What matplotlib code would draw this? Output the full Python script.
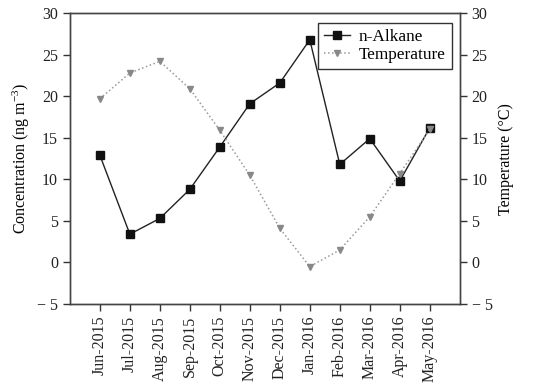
import matplotlib
matplotlib.use('Agg')
import matplotlib.pyplot as plt
import numpy as np

months = ['Jun-2015', 'Jul-2015', 'Aug-2015', 'Sep-2015', 'Oct-2015', 'Nov-2015',
          'Dec-2015', 'Jan-2016', 'Feb-2016', 'Mar-2016', 'Apr-2016', 'May-2016']
alkane = [12.9, 3.4, 5.3, 8.8, 13.9, 19.1, 21.6, 26.8, 11.8, 14.9, 9.8, 16.2]
temperature = [19.7, 22.8, 24.2, 20.9, 15.9, 10.5, 4.1, -0.5, 1.5, 5.5, 10.7, 16.0]
yticks = [-5, 0, 5, 10, 15, 20, 25, 30]
ytick_labels = ['\u2212 5', '0', '5', '10', '15', '20', '25', '30']

plt.rcParams['font.family'] = ['Liberation Serif', 'DejaVu Serif']
plt.rcParams['font.size'] = 11
plt.rcParams['mathtext.fontset'] = 'custom'
plt.rcParams['mathtext.rm'] = 'Liberation Serif'
plt.rcParams['mathtext.it'] = 'Liberation Serif:italic'

fig = plt.figure(figsize=(5.46, 3.87), dpi=100)
ax = fig.add_axes([0.128, 0.2145, 0.714, 0.7515])
ax2 = ax.twinx()

x = np.arange(len(months))
l1, = ax.plot(x, alkane, color='#222222', lw=1, marker='s', ms=6,
              mfc='#111111', mec='#111111', label='n-Alkane')
l2, = ax2.plot(x, temperature, color='#999999', lw=1.1, ls=':', marker='v', ms=5,
               mfc='#888888', mec='#888888', label='Temperature')

for a in (ax, ax2):
    a.set_ylim(-5, 30)
    a.set_yticks(yticks)
    a.set_yticklabels(ytick_labels)
    a.tick_params(direction='out', length=5, width=1, colors='#333333', labelcolor='#222222', labelsize=11.5)
    for s in a.spines.values():
        s.set_color('#444444')
        s.set_linewidth(1)

ax.set_xlim(-1, 12)
ax.set_xticks(x)
ax.set_xticklabels(months, rotation=90)
ax.set_ylabel('Concentration (ng m$^{\\mathrm{-3}}$)', fontsize=11.5)
ax2.set_ylabel('Temperature (°C)', fontsize=11.5)

leg = ax.legend([l1, l2], ['n-Alkane', 'Temperature'], loc='upper right',
                bbox_to_anchor=(0.979, 0.966), borderaxespad=0, fancybox=False,
                framealpha=1, edgecolor='#333333', handlelength=1.5, handletextpad=0.5,
                borderpad=0.35, labelspacing=0.1, fontsize=12.4)
leg.get_frame().set_linewidth(1)

fig.savefig('out.png', dpi=100)
